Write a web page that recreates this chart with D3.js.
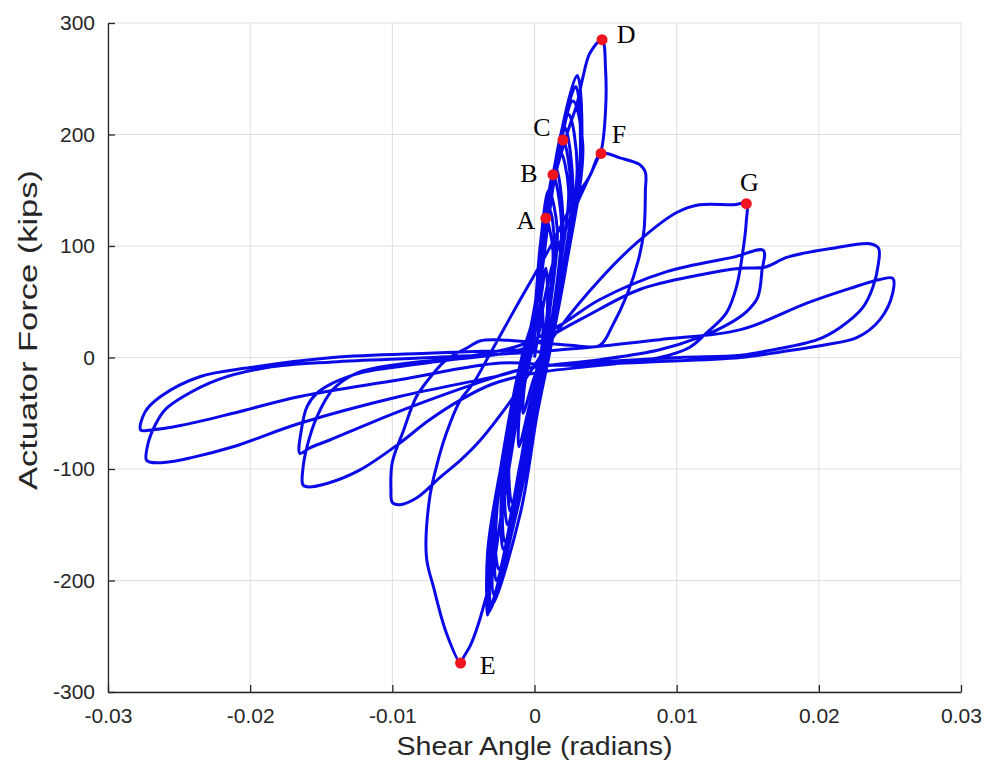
<!DOCTYPE html>
<html lang="en">
<head>
<meta charset="UTF-8">
<title>Shear Angle vs Actuator Force</title>
<script src="https://d3js.org/d3.v7.min.js"></script>
<style>
    body {margin: 0; background: #fff;}
    svg {display: block;}
    .tick text {font-family: "Liberation Sans", Arial, sans-serif; fill: #262626;}
</style>
</head>
<body>
<script>
    const width = 991;
    const height = 774;
    const margin = {top: 23, right: 30, bottom: 82, left: 108};

    // axis ticks
    const xTicks = [-0.03, -0.02, -0.01, 0, 0.01, 0.02, 0.03];
    const xTickLabels = ["-0.03", "-0.02", "-0.01", "0", "0.01", "0.02", "0.03"];
    const yTicks = [-300, -200, -100, 0, 100, 200, 300];
    const yTickLabels = ["-300", "-200", "-100", "0", "100", "200", "300"];

    // [shear angle (rad), actuator force (kips)], in test order
    // elastic cycles (the dense band through the origin)
    const elasticCycles = [
        [0, 0],
        [0.0003, 25], [0.0005, 50], [0.0006, 25], [0.0004, 0], [-0.0002, -25], [-0.0008, -50], [-0.0007, -25], [-0.0003, 0],
        [0.0003, 40], [0.0008, 80], [0.0009, 40], [0.0005, 0], [-0.0003, -40], [-0.0011, -80], [-0.0010, -40], [-0.0004, 0],
        [0.0001, 40], [0.0005, 90], [0.0008, 125], [0.0013, 95], [0.0009, 40], [0.0005, 0], [-0.0002, -40], [-0.0009, -90], [-0.0016, -130], [-0.0018, -90], [-0.0012, -40], [-0.0005, 0],
        [0.0001, 45], [0.0006, 95], [0.0011, 132], [0.0014, 100], [0.0010, 45], [0.0005, 0], [-0.0002, -45], [-0.0010, -95], [-0.0017, -138], [-0.0019, -95], [-0.0012, -42], [-0.0005, 0],
        [0.0000, 40], [0.0004, 100], [0.0010, 150], [0.0016, 115], [0.0011, 45], [0.0006, 0], [-0.0003, -45], [-0.0012, -110], [-0.0019, -150], [-0.0021, -100], [-0.0013, -45], [-0.0006, 0],
        [0.0000, 40], [0.0006, 100], [0.0013, 164], [0.0019, 120], [0.0014, 50], [0.0007, 0], [-0.0001, -40], [-0.0009, -100], [-0.0021, -165], [-0.0022, -110], [-0.0014, -45], [-0.0006, 0],
        [0.0000, 42], [0.0007, 105], [0.0015, 170], [0.0020, 125], [0.0015, 52], [0.0007, 0], [-0.0001, -42], [-0.0010, -105], [-0.0022, -172], [-0.0023, -115], [-0.0015, -47], [-0.0006, 0],
        [0.0001, 45], [0.0010, 125], [0.0018, 185], [0.0024, 150], [0.0016, 65], [0.0008, 0], [-0.0001, -45], [-0.0013, -120], [-0.0025, -190], [-0.0028, -150], [-0.0019, -70], [-0.0008, 0],
        [0.0000, 40], [0.0008, 120], [0.0020, 195], [0.0026, 140], [0.0017, 60], [0.0008, 0], [0.0000, -40], [-0.0010, -110], [-0.0027, -200], [-0.0026, -130], [-0.0016, -50], [-0.0007, 0],
        [0.0000, 40], [0.0009, 130], [0.0021, 207], [0.0027, 150], [0.0018, 65], [0.0008, 0], [0.0001, -40], [-0.0011, -120], [-0.0029, -212], [-0.0027, -140], [-0.0017, -55], [-0.0007, 0],
        [0.0000, 45], [0.0012, 145], [0.0024, 218], [0.0030, 170], [0.0019, 70], [0.0009, 0], [0.0000, -50], [-0.0014, -140], [-0.0032, -228], [-0.0033, -175], [-0.0021, -80], [-0.0009, 0],
        [0.0001, 45], [0.0011, 150], [0.0030, 253], [0.0033, 180], [0.0020, 70], [0.0009, 0], [0.0001, -45], [-0.0012, -130], [-0.0033, -231], [-0.0030, -160], [-0.0018, -60], [-0.0008, 0],
        [0.0002, 50], [0.0014, 160], [0.0027, 230], [0.0034, 190], [0.0022, 80], [0.0010, 0], [0.0002, -50], [-0.0010, -140], [-0.0030, -222], [-0.0031, -170], [-0.0020, -70], [-0.0009, 0],
        [0.0001, 45], [0.0012, 155], [0.0029, 243], [0.0032, 175], [0.0020, 70], [0.0009, 0], [0.0002, -45], [-0.0011, -130], [-0.0031, -226], [-0.0029, -155], [-0.0017, -60], [-0.0007, 0]
    ];

    // peak cycle: up to D, down to E, back up to F
    const peakCycle = [
        [0.0001, 50], [0.0012, 150], [0.0024, 205], [0.0030, 228], [0.0034, 251], [0.0039, 273], [0.00475, 285],
        [0.0050, 258], [0.0050, 222], [0.0047, 186], [0.0044, 177], [0.0032, 144], [0.0018, 103], [0.0013, 85],
        [0.0007, 52], [0.0002, 16], [-0.0003, 0], [-0.0010, -38], [-0.0017, -92], [-0.0024, -146], [-0.0029, -188],
        [-0.0038, -233], [-0.0045, -258], [-0.0050, -269], [-0.0052, -274],
        [-0.0062, -247], [-0.0071, -206], [-0.0076, -179], [-0.0074, -128], [-0.0069, -98], [-0.0062, -68],
        [-0.0052, -38], [-0.0043, -23], [-0.0031, 4], [-0.0010, 52], [0.0011, 99], [0.0028, 141], [0.0039, 163], [0.00468, 183]
    ];

    // plateau after F, then the -0.01 rad excursion
    const cycle075 = [
        [0.0060, 179], [0.0074, 173], [0.0078, 166], [0.0078, 150], [0.0077, 114], [0.0073, 87], [0.0065, 56],
        [0.0055, 29], [0.0046, 11], [0.0025, 11], [-0.0003, 14], [-0.0028, 16], [-0.0038, 15], [-0.0047, 9],
        [-0.0062, -2], [-0.0071, -14], [-0.0083, -35], [-0.0092, -65], [-0.0100, -94], [-0.0101, -119], [-0.0100, -130]
    ];

    // first 0.015 rad cycle (G)
    const cycle15a = [
        [-0.0095, -132], [-0.0083, -126], [-0.0066, -107], [-0.0052, -92], [-0.0038, -74], [-0.0019, -43],
        [-0.0003, -13], [0.0018, 27], [0.0046, 70], [0.0072, 103], [0.0100, 130], [0.0116, 137], [0.0140, 137], [0.0149, 138],
        [0.0149, 123], [0.0147, 99], [0.0142, 63], [0.0135, 40], [0.0121, 22], [0.0109, 9], [0.0088, 0], [0.0046, -7],
        [0.0000, -14], [-0.0030, -24], [-0.0052, -38], [-0.0075, -57], [-0.0095, -77], [-0.0123, -101], [-0.0146, -113],
        [-0.0160, -116], [-0.0163, -114]
    ];

    // second 0.015 rad cycle
    const cycle15b = [
        [-0.0163, -101], [-0.0160, -80], [-0.0153, -53], [-0.0142, -29], [-0.0125, -14], [-0.0095, -6], [-0.0052, 0],
        [-0.0010, 11], [0.0018, 29], [0.0046, 52], [0.0093, 77], [0.0140, 90], [0.0161, 96],
        [0.0160, 78], [0.0157, 54], [0.0149, 41], [0.0135, 29], [0.0116, 18], [0.0088, 7], [0.0046, -2], [-0.0010, -11],
        [-0.0045, -25], [-0.0080, -41], [-0.0116, -59], [-0.0144, -74], [-0.0158, -81], [-0.0165, -86]
    ];

    // first 0.025 rad cycle
    const cycle25a = [
        [-0.0164, -65], [-0.0160, -44], [-0.0153, -32], [-0.0142, -23], [-0.0123, -14], [-0.0100, -9], [-0.0059, -2],
        [-0.0010, 7], [0.0032, 34], [0.0074, 61], [0.0116, 74], [0.0145, 80], [0.0162, 81], [0.0178, 90], [0.0210, 98],
        [0.0236, 102], [0.0242, 98],
        [0.0242, 85], [0.0238, 63], [0.0231, 45], [0.0215, 27], [0.0199, 16], [0.0168, 7], [0.0145, 2], [0.0102, 0],
        [0.0046, -4], [-0.0003, -9], [-0.0024, -16], [-0.0095, -35], [-0.0165, -59], [-0.0212, -80], [-0.0242, -90],
        [-0.0259, -94], [-0.0270, -94], [-0.0273, -92]
    ];

    // second 0.025 rad cycle and return
    const cycle25b = [
        [-0.0272, -78], [-0.0267, -61], [-0.0260, -47], [-0.0247, -35], [-0.0223, -20], [-0.0188, -9], [-0.0142, -4],
        [-0.0071, 0], [0.0000, 5], [0.0046, 10], [0.0088, 16], [0.0145, 25], [0.0192, 49], [0.0222, 62], [0.0243, 70], [0.0252, 71],
        [0.0252, 58], [0.0243, 34], [0.0227, 18], [0.0203, 11], [0.0173, 5], [0.0145, 0], [0.0081, -4], [0.0018, -7],
        [-0.0024, -5], [-0.0095, -20], [-0.0165, -35], [-0.0212, -50], [-0.0249, -61], [-0.0270, -65], [-0.0277, -65],
        [-0.0274, -49], [-0.0263, -35], [-0.0235, -17], [-0.0200, -9], [-0.0142, 0], [-0.0071, 4], [-0.0001, 7]
    ];

    // labelled points
    const markerNames = ["A", "B", "C", "D", "E", "F", "G"];
    const markerAngles = [0.0008, 0.0013, 0.0020, 0.00475, -0.0052, 0.00468, 0.0149];
    const markerForces = [125, 164, 195, 285, -274, 183, 138];
    // label offsets in pixels (placement only)
    const labelDx = [-20, -24, -21, 24, 27, 18, 3];
    const labelDy = [2, -2, -13, -6, 2, -20, -22];

    const trace = [].concat(elasticCycles, peakCycle, cycle075, cycle15a, cycle15b, cycle25a, cycle25b);

    const svg = d3.select("body").append("svg")
            .attr("width", width).attr("height", height);

    const x = d3.scaleLinear().domain([-0.03, 0.03]).range([margin.left, width - margin.right]);
    const y = d3.scaleLinear().domain([-300, 300]).range([height - margin.bottom, margin.top]);

    // grid
    svg.append("g").selectAll("line.vgrid")
            .data(xTicks).enter().append("line")
            .attr("x1", d => x(d)).attr("x2", d => x(d))
            .attr("y1", y(-300)).attr("y2", y(300))
            .style("stroke", "#dfdfdf").style("stroke-width", 1);
    svg.append("g").selectAll("line.hgrid")
            .data(yTicks).enter().append("line")
            .attr("x1", x(-0.03)).attr("x2", x(0.03))
            .attr("y1", d => y(d)).attr("y2", d => y(d))
            .style("stroke", "#dfdfdf").style("stroke-width", 1);

    // hysteresis trace
    const line = d3.line()
            .x(d => x(d[0]))
            .y(d => y(d[1]))
            .curve(d3.curveCatmullRom.alpha(0.5));

    svg.append("path")
            .datum(trace)
            .attr("d", line)
            .style("fill", "none")
            .style("stroke", "#0a0ae8")
            .style("stroke-width", 3)
            .style("stroke-linejoin", "round");

    // axes (inward ticks, no box)
    const xAxis = d3.axisBottom(x)
            .tickValues(xTicks)
            .tickFormat((d, i) => xTickLabels[i])
            .tickSizeInner(-7).tickSizeOuter(0).tickPadding(16);
    const yAxis = d3.axisLeft(y)
            .tickValues(yTicks)
            .tickFormat((d, i) => yTickLabels[i])
            .tickSizeInner(-7).tickSizeOuter(0).tickPadding(13);

    const gx = svg.append("g")
            .attr("transform", "translate(0," + y(-300) + ")")
            .call(xAxis);
    const gy = svg.append("g")
            .attr("transform", "translate(" + x(-0.03) + ",0)")
            .call(yAxis);

    [gx, gy].forEach(g => {
        g.select(".domain").style("stroke", "#262626").style("stroke-width", 1.3);
        g.selectAll(".tick line").style("stroke", "#262626").style("stroke-width", 1.3);
        g.selectAll(".tick text").style("font-size", "21px");
    });

    // axis titles
    svg.append("text")
            .attr("x", x(0)).attr("y", 755)
            .attr("text-anchor", "middle")
            .attr("textLength", 276)
            .attr("lengthAdjust", "spacingAndGlyphs")
            .style("font-family", "'Liberation Sans', Arial, sans-serif")
            .style("font-size", "25px")
            .style("fill", "#262626")
            .text("Shear Angle (radians)");

    svg.append("text")
            .attr("transform", "translate(37,330) rotate(-90)")
            .attr("text-anchor", "middle")
            .attr("textLength", 320)
            .attr("lengthAdjust", "spacingAndGlyphs")
            .style("font-family", "'Liberation Sans', Arial, sans-serif")
            .style("font-size", "25px")
            .style("fill", "#262626")
            .text("Actuator Force (kips)");

    // red points and letters
    const markers = svg.append("g").selectAll("g.marker")
            .data(markerNames)
            .enter().append("g")
            .attr("class", "marker");

    markers.append("circle")
            .attr("cx", (d, i) => x(markerAngles[i]))
            .attr("cy", (d, i) => y(markerForces[i]))
            .attr("r", 5.5)
            .style("fill", "#f0141e");

    markers.append("text")
            .attr("x", (d, i) => x(markerAngles[i]) + labelDx[i])
            .attr("y", (d, i) => y(markerForces[i]) + labelDy[i])
            .attr("text-anchor", "middle")
            .attr("dy", "0.35em")
            .style("font-family", "'Liberation Serif', 'Times New Roman', serif")
            .style("font-size", "26px")
            .style("fill", "#000")
            .text(d => d);
</script>
</body>
</html>
